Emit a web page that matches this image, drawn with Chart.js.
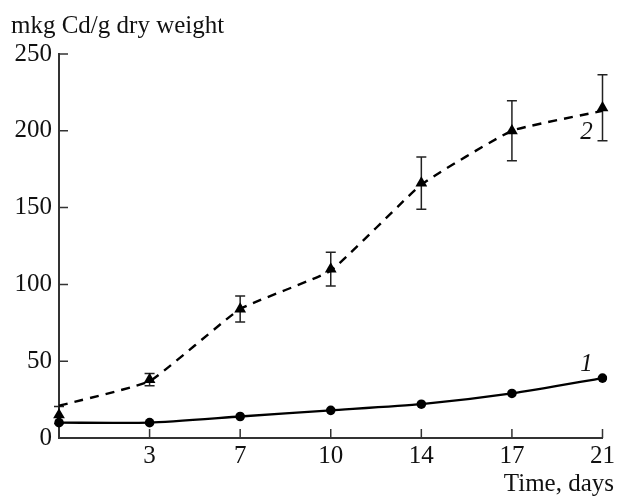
<!DOCTYPE html>
<html>
<head>
<meta charset="utf-8">
<script src="https://cdn.jsdelivr.net/npm/chart.js@4/dist/chart.umd.min.js"></script>
<style>
  html, body { margin: 0; padding: 0; background: #fff; }
  canvas { display: block; }
</style>
</head>
<body>
<canvas id="cd-chart" width="618" height="496"></canvas>
<script>
// Time points (days) and Cd content
const days = ['0', '3', '7', '10', '14', '17', '21'];
const curve1 = [10, 10, 14, 18, 22, 29, 39];          // line 1, circles
const curve2 = [15, 38, 84, 110, 166, 200, 215];      // line 2, triangles
const curve2Err = [5.5, 4, 8.5, 11, 17, 19.5, 21.5];  // error bars for line 2
const curve2Fit = [21, 37, 84, 109, 165, 200, 213];   // dashed trend line
const yTicks = [0, 50, 100, 150, 200, 250];

const serif = '"Liberation Serif", "DejaVu Serif", serif';
const axisColor = '#333';

// Error bars, inward tick marks and text labels
const extras = {
    id: 'extras',
    beforeDatasetsDraw(chart) {
        const { ctx, scales: { x, y } } = chart;
        ctx.save();
        ctx.strokeStyle = '#222';
        ctx.lineWidth = 1.5;
        curve2.forEach((v, i) => {
            const px = x.getPixelForValue(i);
            const top = y.getPixelForValue(v + curve2Err[i]);
            const bot = y.getPixelForValue(Math.max(0, v - curve2Err[i]));
            ctx.beginPath();
            ctx.moveTo(px, top); ctx.lineTo(px, bot);
            ctx.moveTo(px - 5, top); ctx.lineTo(px + 5, top);
            if (v - curve2Err[i] > 0) { ctx.moveTo(px - 5, bot); ctx.lineTo(px + 5, bot); }
            ctx.stroke();
        });
        ctx.restore();
    },
    afterDraw(chart) {
        const { ctx, scales: { x, y }, chartArea: a } = chart;
        ctx.save();
        ctx.strokeStyle = axisColor;
        ctx.lineWidth = 1.5;
        ctx.beginPath();
        yTicks.forEach(t => {
            const py = y.getPixelForValue(t);
            ctx.moveTo(a.left, py); ctx.lineTo(a.left + 9, py);
        });
        days.forEach((d, i) => {
            if (i === 0) return;
            const px = x.getPixelForValue(i);
            ctx.moveTo(px, a.bottom); ctx.lineTo(px, a.bottom - 9);
        });
        ctx.stroke();

        ctx.fillStyle = '#111';
        ctx.font = '25px ' + serif;
        ctx.textAlign = 'left';
        ctx.textBaseline = 'alphabetic';
        ctx.fillText('mkg Cd/g dry weight', 11, 33);
        ctx.textAlign = 'right';
        ctx.fillText('Time, days', 614, 491);

        ctx.font = 'italic 25px ' + serif;
        ctx.textAlign = 'center';
        ctx.textBaseline = 'middle';
        const last = days.length - 1;
        ctx.fillText('1', x.getPixelForValue(last) - 16, y.getPixelForValue(48));
        ctx.fillText('2', x.getPixelForValue(last) - 16, y.getPixelForValue(199));
        ctx.restore();
    }
};

new Chart(document.getElementById('cd-chart'), {
    type: 'line',
    data: {
        labels: days,
        datasets: [
            {
                data: curve1,
                borderColor: '#000',
                borderWidth: 2.3,
                tension: 0.2,
                pointStyle: 'circle',
                pointRadius: 4.8,
                pointBackgroundColor: '#000',
                pointBorderWidth: 0
            },
            {
                data: curve2Fit,
                borderColor: '#000',
                borderWidth: 2.4,
                borderDash: [9, 7],
                tension: 0.12,
                pointRadius: 0
            },
            {
                data: curve2,
                showLine: false,
                pointStyle: 'triangle',
                pointRadius: 6.8,
                pointBackgroundColor: '#000',
                pointBorderColor: '#000',
                pointBorderWidth: 0
            }
        ]
    },
    options: {
        responsive: false,
        animation: false,
        events: [],
        layout: { padding: { top: 54, right: 14, bottom: 0, left: 0 } },
        plugins: {
            legend: { display: false },
            title: { display: false },
            tooltip: { enabled: false }
        },
        scales: {
            x: {
                type: 'category',
                offset: false,
                grid: { display: false, drawTicks: false },
                border: { display: true, color: axisColor, width: 2 },
                ticks: {
                    color: '#111',
                    padding: 3,
                    maxRotation: 0,
                    autoSkip: false,
                    font: { family: serif, size: 25 },
                    callback: (v, i) => (i === 0 ? '' : days[i])
                },
                afterFit: s => { s.height = 58; }
            },
            y: {
                min: 0,
                max: 250,
                grid: { display: false, drawTicks: false },
                border: { display: true, color: axisColor, width: 2 },
                ticks: {
                    stepSize: 50,
                    color: '#111',
                    padding: 7,
                    font: { family: serif, size: 25 }
                },
                afterFit: s => { s.width = 59; }
            }
        }
    },
    plugins: [extras]
});
</script>
</body>
</html>
